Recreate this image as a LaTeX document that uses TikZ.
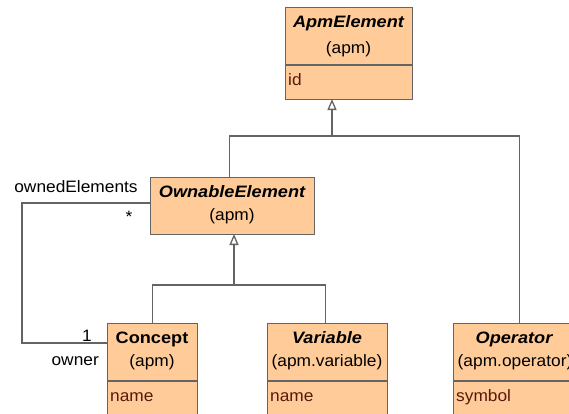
\documentclass[tikz,border=0pt]{standalone}
\usepackage{fontspec}
\setmainfont[FakeStretch=1.05]{Liberation Sans}
\newfontfamily\titlefont[FakeStretch=1.1]{Liberation Sans}
\usetikzlibrary{arrows.meta}
\definecolor{clsfill}{RGB}{255,204,153}
\definecolor{clsline}{RGB}{100,100,100}
\definecolor{attrcol}{RGB}{90,24,12}
\tikzset{
  cls/.style={draw=clsline, fill=clsfill, line width=1.3pt, inner sep=0pt, anchor=north west},
  divider/.style={draw=clsline, line width=1.3pt},
  ttlab/.style={font=\titlefont\fontsize{16.5}{19}\selectfont\bfseries\itshape, inner sep=0pt, anchor=base},
  ttl/.style={font=\titlefont\fontsize{16.5}{19}\selectfont\bfseries, inner sep=0pt, anchor=base},
  pkg/.style={font=\fontsize{16.5}{19}\selectfont, inner sep=0pt, anchor=base},
  attr/.style={font=\fontsize{16.5}{19}\selectfont, text=attrcol, inner sep=0pt, anchor=base west},
  lbl/.style={font=\fontsize{16.5}{19}\selectfont, inner sep=0pt, anchor=base},
  conn/.style={draw=clsline, line width=1.3pt},
  gen/.style={conn, -{Triangle[open, length=11pt, width=9pt, fill=white]}}
}
\begin{document}
\begin{tikzpicture}[x=1pt, y=-1pt]
\useasboundingbox (0,0) rectangle (569,413);
\clip (0,0) rectangle (569,413);
\fill[white] (0,0) rectangle (569,413);

% ApmElement
\node[cls, minimum width=127pt, minimum height=92pt] (apm) at (285,7) {};
\draw[divider] (285,65) -- (412,65);
\node[ttlab] (apmT) at (348.5,27) {ApmElement};
\node[pkg] (apmP) at (348.5,53) {(apm)};
\node[attr] (apmA) at (288,85) {id};

% OwnableElement
\node[cls, minimum width=164pt, minimum height=57pt] (own) at (150,177) {};
\node[ttlab] (ownT) at (232,197) {OwnableElement};
\node[pkg] (ownP) at (232,220) {(apm)};

% Concept
\node[cls, minimum width=90pt, minimum height=130pt] (con) at (107,323) {};
\draw[divider] (107,381) -- (197,381);
\node[ttl] (conT) at (152,343) {Concept};
\node[pkg] (conP) at (152,366.5) {(apm)};
\node[attr] (conA) at (110,401) {name};

% Variable
\node[cls, minimum width=120pt, minimum height=130pt] (var) at (267,323) {};
\draw[divider] (267,381) -- (387,381);
\node[ttlab] (varT) at (327,343) {Variable};
\node[pkg] (varP) at (327,366.5) {(apm.variable)};
\node[attr] (varA) at (270,401) {name};

% Operator
\node[cls, minimum width=124pt, minimum height=130pt] (op) at (453,323) {};
\draw[divider] (453,381) -- (577,381);
\node[ttlab] (opT) at (514,343) {Operator};
\node[pkg] (opP) at (515,366.5) {(apm.operator)};
\node[attr] (opA) at (456,401) {symbol};

% generalization: top tree
\coordinate (apmTip) at (332,99);
\coordinate (j1) at (332,136);
\draw[gen] (j1) -- (apmTip);
\draw[conn] ([xshift=-3pt]own.north) |- (j1);
\draw[conn] (j1) -| ([xshift=4pt]op.north);

% generalization: lower tree
\coordinate (ownTip) at (234,234);
\coordinate (j2) at (234,285);
\draw[gen] (j2) -- (ownTip);
\draw[conn] (con.north) |- (j2);
\draw[conn] (j2) -| ([xshift=-2pt]var.north);

% association
\coordinate (a1) at (22,203);
\coordinate (a2) at (22,343);
\draw[conn] (own.west |- a1) -- (a1) -- (a2) -- (con.west |- a2);
\node[lbl] (lOwned) at (76,192) {ownedElements};
\node[lbl] (lStar) at (129,222) {*};
\node[lbl] (lOne) at (87,341) {1};
\node[lbl, anchor=base east] (lOwner) at (99,365) {owner};
\end{tikzpicture}
\end{document}
